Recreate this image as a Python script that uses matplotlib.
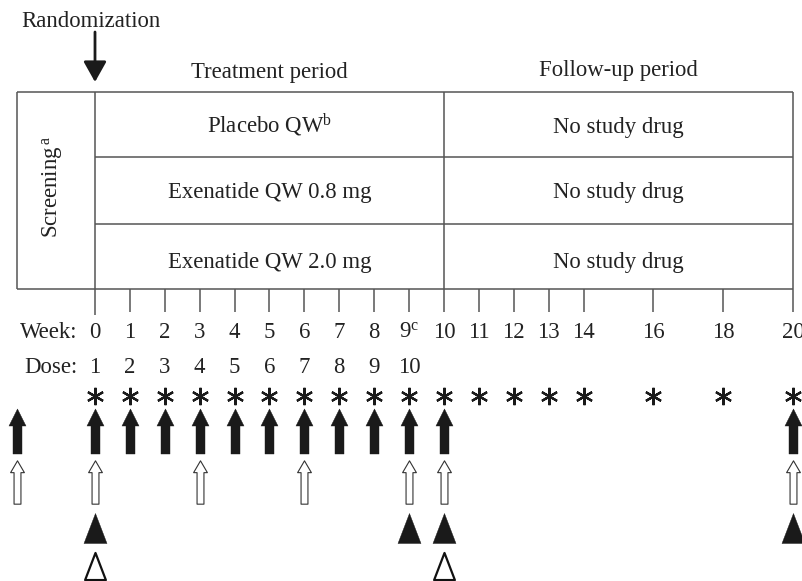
import numpy as np
import matplotlib
matplotlib.use('Agg')
import matplotlib.pyplot as plt
from matplotlib.path import Path

plt.rcParams['font.family'] = ['Liberation Serif', 'DejaVu Serif']
plt.rcParams['mathtext.fontset'] = 'custom'
plt.rcParams['mathtext.rm'] = 'Liberation Serif'
plt.rcParams['mathtext.it'] = 'Liberation Serif:italic'

# 数据：访视周次及各类事件
weeks = [0, 1, 2, 3, 4, 5, 6, 7, 8, 9, 10, 11, 12, 13, 14, 16, 18, 20]
week_labels = ['0', '1', '2', '3', '4', '5', '6', '7', '8', '9$^{\\mathrm{c}}$',
               '10', '11', '12', '13', '14', '16', '18', '20']
dose_weeks = [0, 1, 2, 3, 4, 5, 6, 7, 8, 9]
doses = [1, 2, 3, 4, 5, 6, 7, 8, 9, 10]
asterisk_weeks = [0, 1, 2, 3, 4, 5, 6, 7, 8, 9, 10, 11, 12, 13, 14, 16, 18, 20]
black_arrow_visits = ['S', 0, 1, 2, 3, 4, 5, 6, 7, 8, 9, 10, 20]
white_arrow_visits = ['S', 0, 3, 6, 9, 10, 20]
black_tri_weeks = [0, 9, 10, 20]
white_tri_weeks = [0, 10]
arms = ['Placebo QW$^{\\mathrm{b}}$', 'Exenatide QW 0.8 mg', 'Exenatide QW 2.0 mg']
followup = ['No study drug', 'No study drug', 'No study drug']
end_treatment = 10
end_study = 20

SCREEN_X = -2.235   # 筛选期列的位置（周坐标）


def pos(v):
    return SCREEN_X if v == 'S' else v


def marker_from(verts):
    verts = np.asarray(verts + [verts[0]], dtype=float)
    codes = [Path.MOVETO] + [Path.LINETO] * (len(verts) - 2) + [Path.CLOSEPOLY]
    return Path(verts, codes)


black_arrow = marker_from([(0, 22.5), (8.5, 5.5), (4.5, 5.5), (4.5, -22.5),
                           (-4.5, -22.5), (-4.5, 5.5), (-8.5, 5.5)])
white_arrow = marker_from([(0, 22), (7, 10), (3.5, 10), (3.5, -22),
                           (-3.5, -22), (-3.5, 10), (-7, 10)])
tri = marker_from([(0, 15), (11.5, -15), (-11.5, -15)])

fig = plt.figure(figsize=(8.03, 5.81), dpi=100)
ax = fig.add_axes([0, 0, 1, 1])
ax.set_xlim(-95 / 34.9, (803 - 95) / 34.9)
ax.set_ylim(581, 0)
ax.axis('off')

line_c = '#555555'
txt_c = '#222222'
fs = 16.4

# 表格框线
top, bottom, tick_end = 92, 289, 312
row_lines = [157, 224]
ax.hlines([top, bottom], SCREEN_X, end_study, color=line_c, lw=1.1)
ax.hlines(row_lines, 0, end_study, color=line_c, lw=1.1)
ax.vlines(SCREEN_X, top, bottom, color=line_c, lw=1.1)
ax.vlines([0], top, 315, color=line_c, lw=1.1)
ax.vlines([end_treatment, end_study], top, tick_end, color=line_c, lw=1.1)
other_ticks = [w for w in weeks if w not in (0, end_treatment, end_study)]
ax.vlines(other_ticks, bottom, tick_end, color=line_c, lw=1.1)

# 随机化箭头
ax.text(-0.115, 27, 'Randomization', ha='center', va='baseline', fontsize=fs, color=txt_c)
ax.annotate('', xy=(0, 82), xytext=(0, 32),
            arrowprops=dict(arrowstyle='-|>,head_length=12.5,head_width=7',
                            mutation_scale=1, color='#1a1a1a', lw=2.0,
                            shrinkA=0, shrinkB=0))

ax.text(end_treatment / 2, 78, 'Treatment period', ha='center', va='baseline',
        fontsize=fs, color=txt_c)
ax.text((end_treatment + end_study) / 2, 76, 'Follow-up period', ha='center',
        va='baseline', fontsize=fs, color=txt_c)

row_base = [133, 198, 268]
for y, a, f in zip(row_base, arms, followup):
    ax.text(end_treatment / 2, y, a, ha='center', va='baseline', fontsize=fs, color=txt_c)
    ax.text((end_treatment + end_study) / 2, y, f, ha='center', va='baseline',
            fontsize=fs, color=txt_c)

ax.text(SCREEN_X + 1.03, 187, 'Screening$^{\\,\\mathrm{a}}$', rotation=90, ha='center',
        va='center', fontsize=fs, color=txt_c)

# 周次与剂量
ax.text(-0.49, 338, 'Week:', ha='right', va='baseline', fontsize=fs, color=txt_c)
for w, lab in zip(weeks, week_labels):
    ax.text(w, 338, lab, ha='center', va='baseline', fontsize=fs, color=txt_c)
ax.text(-0.49, 373, 'Dose:', ha='right', va='baseline', fontsize=fs, color=txt_c)
for w, d in zip(dose_weeks, doses):
    ax.text(w, 373, str(d), ha='center', va='baseline', fontsize=fs, color=txt_c)

# 标记
ax.plot(asterisk_weeks, [396] * len(asterisk_weeks), ls='none', marker=(6, 2, 0),
        ms=12.5, mew=1.6, color='#1a1a1a')
ax.plot([pos(v) for v in black_arrow_visits], [430.5] * len(black_arrow_visits),
        ls='none', marker=black_arrow, ms=32.4, mfc='#1a1a1a', mec='#1a1a1a', mew=0.3)
ax.plot([pos(v) for v in white_arrow_visits], [482] * len(white_arrow_visits),
        ls='none', marker=white_arrow, ms=31.2, mfc='white', mec='#333333', mew=0.8)
ax.plot(black_tri_weeks, [528] * len(black_tri_weeks), ls='none', marker=tri,
        ms=21.6, mfc='#1a1a1a', mec='#1a1a1a', mew=0.3)
ax.plot(white_tri_weeks, [565.5] * len(white_tri_weeks), ls='none', marker=tri,
        ms=19.5, mfc='white', mec='#111111', mew=1.6)

fig.savefig('out.png', dpi=100)
